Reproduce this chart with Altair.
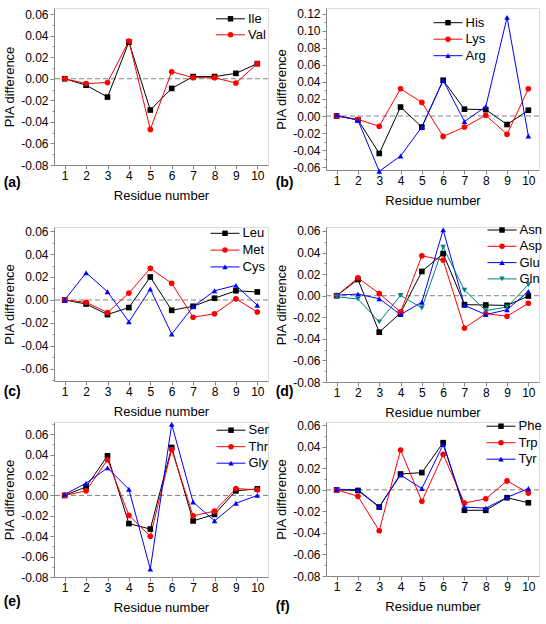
import altair as alt
import pandas as pd

residues = [1, 2, 3, 4, 5, 6, 7, 8, 9, 10]

# (a)
ile = [0.0, -0.006, -0.017, 0.034, -0.029, -0.009, 0.002, 0.002, 0.005, 0.014]
val = [0.0, -0.0045, -0.0035, 0.035, -0.047, 0.0065, 0.001, 0.001, -0.004, 0.014]
# (b)
his = [0.0, -0.0045, -0.044, 0.0105, -0.013, 0.042, 0.008, 0.0075, -0.010, 0.0068]
lys = [0.0, -0.004, -0.012, 0.032, 0.016, -0.024, -0.013, 0.0008, -0.0215, 0.032]
arg = [0.001, -0.005, -0.065, -0.047, -0.013, 0.042, -0.0065, 0.011, 0.116, -0.0235]
# (c)
leu = [0.0, -0.0035, -0.0127, -0.0066, 0.020, -0.009, -0.0055, 0.0015, 0.008, 0.007]
met = [0.0, -0.002, -0.011, 0.006, 0.0275, 0.0145, -0.015, -0.012, 0.001, -0.0105]
cys = [0.0, 0.0237, 0.0072, -0.019, 0.0095, -0.0297, -0.0058, 0.008, 0.0127, -0.0046]
# (d)
asn = [0.0, 0.015, -0.0338, -0.016, 0.0225, 0.039, -0.0083, -0.0086, -0.009, -0.0003]
asp = [0.0, 0.0166, 0.002, -0.015, 0.037, 0.033, -0.030, -0.0166, -0.019, -0.007]
glu = [0.0006, 0.0015, -0.0028, -0.0175, -0.006, 0.061, -0.009, -0.0175, -0.013, 0.004]
gln = [-0.001, -0.003, -0.0243, 0.0003, -0.0114, 0.045, 0.0052, -0.0138, -0.0105, 0.0102]
# (e)
ser = [0.0, 0.0083, 0.0388, -0.0276, -0.033, 0.047, -0.025, -0.0186, 0.0045, 0.0064]
thr = [0.0, 0.0045, 0.035, -0.0196, -0.040, 0.045, -0.020, -0.0154, 0.0067, 0.0055]
gly = [0.001, 0.012, 0.027, 0.006, -0.0723, 0.0697, -0.0065, -0.025, -0.0077, 0.0]
# (f)
phe = [0.0, -0.0006, -0.016, 0.0147, 0.016, 0.0438, -0.019, -0.019, -0.0073, -0.012]
trp = [0.0, -0.006, -0.038, 0.037, -0.0107, 0.033, -0.0123, -0.0083, 0.0083, -0.003]
tyr = [0.0006, 0.0, -0.0156, 0.0138, 0.0012, 0.042, -0.016, -0.017, -0.007, 0.0012]

palette = ["#000000", "#ff0000", "#0000ff", "#008080"]
shapes = ["square", "circle", "triangle-up", "triangle-down"]

FONT = "Liberation Sans"
MINUS = "\u2212"

IND = dict(color="independent", shape="independent", stroke="independent")


def panel(letter, names, series, ydom, width, height, lx, ly, rowpad, title_off):
    rows = []
    for k, (nm, vals) in enumerate(zip(names, series)):
        for r, v in zip(residues, vals):
            rows.append({"residue": r, "value": v, "series": nm, "series2": nm, "order": k})
    df = pd.DataFrame(rows)
    colors = palette[: len(names)]
    shp = shapes[: len(names)]

    lo = int(round(ydom[0] * 100))
    hi = int(round(ydom[1] * 100 - 0.4999))
    yvals = [round(k / 100, 2) for k in range(lo, hi + 1)]
    even = "abs(round(datum.value*100)) % 2 == 0"
    yaxis = alt.Axis(
        values=yvals,
        labelExpr=f"{even} ? replace(format(datum.value, '.2f'), '{MINUS}', '-') : ''",
        tickSize={"condition": {"test": even, "value": 4}, "value": 2},
        grid=False,
        labelPadding=2,
        labelFontSize=12,
        title="PIA difference",
        titleFontSize=13,
        titleFontWeight="normal",
        titlePadding=4,
    )
    yscale = alt.Scale(domain=ydom, nice=False, zero=False)
    xaxis = alt.Axis(
        values=residues,
        tickSize=4,
        labelPadding=1,
        labelFontSize=12,
        labelAngle=0,
        format="d",
        grid=False,
        title="Residue number",
        titleFontSize=13,
        titleFontWeight="normal",
        titlePadding=8,
    )
    xscale = alt.Scale(domain=[0.5, 10.5], nice=False, zero=False)
    X = alt.X("residue:Q", scale=xscale, axis=xaxis)
    Y = alt.Y("value:Q", scale=yscale, axis=yaxis)
    sortf = alt.EncodingSortField(field="order", op="min")

    common = dict(
        orient="none", legendX=lx, legendY=ly, title=None, padding=0,
        labelFont=FONT, labelFontSize=13, labelColor="black",
        symbolSize=30, symbolStrokeWidth=1, rowPadding=rowpad,
        labelOffset=11, symbolOffset=0,
    )
    line_legend = alt.Legend(symbolType="M-5.29,0H5.29", labelOpacity=0, zindex=0, **common)
    pt_legend = alt.Legend(symbolOpacity=1, zindex=1, **common)

    zero = alt.Chart(pd.DataFrame({"value": [0.0]})).mark_rule(
        color="#808080", strokeDash=[5, 3], strokeWidth=1
    ).encode(y=Y)

    lines = alt.Chart(df).mark_line(strokeWidth=1).encode(
        x=X, y=Y,
        stroke=alt.Stroke("series2:N", sort=sortf, scale=alt.Scale(range=colors), legend=line_legend),
    )
    pts = alt.Chart(df).mark_point(filled=True, size=32, opacity=1).encode(
        x=X, y=Y,
        color=alt.Color("series:N", sort=sortf, scale=alt.Scale(range=colors), legend=pt_legend),
        shape=alt.Shape("series:N", sort=sortf, scale=alt.Scale(range=shp), legend=pt_legend),
    )
    return alt.layer(zero, lines, pts).properties(
        width=width, height=height,
        title=alt.TitleParams(
            text=f"({letter})", orient="bottom", anchor="start", frame="bounds",
            fontSize=14, fontWeight="bold", font=FONT, color="black", offset=title_off,
        ),
    )


pa = panel("a", ["Ile", "Val"], [ile, val], [-0.08, 0.0656], 214, 157, 170, 4.3, 2, -25.6)
pb = panel("b", ["His", "Lys", "Arg"], [his, lys, arg], [-0.0635, 0.127], 213, 162, 115.5, 8.2, 2.5, -30.6)
pc = panel("c", ["Leu", "Met", "Cys"], [leu, met, cys], [-0.0705, 0.0635], 214, 154, 164.5, -0.2, 2.8, -32.6)
pd_ = panel("d", ["Asn", "Asp", "Glu", "Gln"], [asn, asp, glu, gln], [-0.08, 0.0637], 213, 155, 169.5, -3.5, 2.3, -33.6)
pe = panel("e", ["Ser", "Thr", "Gly"], [ser, thr, gly], [-0.08, 0.072], 214, 155, 170.5, 1.7, 2.5, -19.4)
pf = panel("f", ["Phe", "Trp", "Tyr"], [phe, trp, tyr], [-0.08, 0.063], 213, 154, 168.5, -2.3, 2.5, -13.1)


def row(left, right):
    return (
        alt.hconcat(left, right, spacing=58, bounds="flush")
        .resolve_scale(**IND)
        .resolve_legend(**IND)
    )


lower = alt.vconcat(row(pc, pd_), row(pe, pf), spacing=-2).resolve_scale(**IND).resolve_legend(**IND)

chart = alt.vconcat(row(pa, pb), lower, spacing=15).resolve_scale(**IND).resolve_legend(**IND).properties(
    padding={"left": 3, "top": 7, "right": 0, "bottom": 0}
).configure_view(stroke=None).configure_axis(
    domainColor="black", tickColor="black", labelColor="black", titleColor="black",
    labelFont=FONT, titleFont=FONT, titleFontWeight="normal", domainWidth=1, tickWidth=1,
).configure(background="white")

chart.save("out.html", embed_options={"renderer": "svg", "actions": False})
